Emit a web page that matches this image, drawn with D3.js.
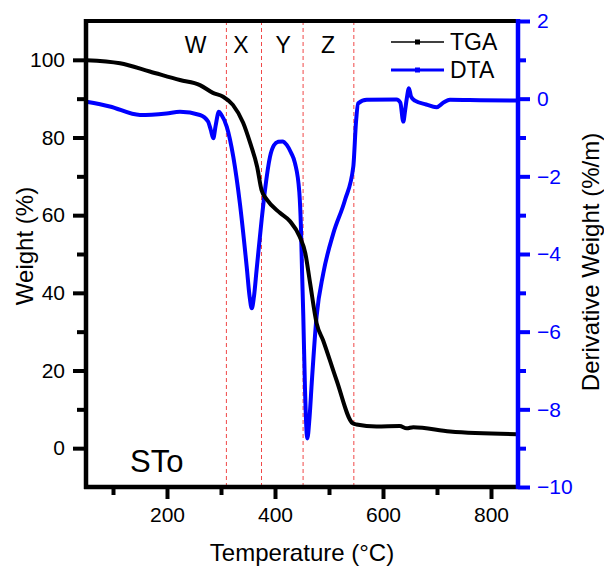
<!DOCTYPE html>
<html><head><meta charset="utf-8">
<script src="https://cdn.jsdelivr.net/npm/d3@7"></script>
<style>body{margin:0;background:#fff}text{font-family:"Liberation Sans",Arial,sans-serif}</style>
</head><body><svg id="c" width="604" height="568"></svg>
<script>
const tgaT = [51,113,168,224,261,285,304,322,341,354,367,375,385,409,428,446,456,465,477,489,514,544,551,588,631,644,656,724,848];
const tgaW = [99.9,99.1,97.0,94.8,93.5,91.5,90.5,88.4,83.8,78.6,72.4,66.5,64.0,60.6,58.4,54.4,50.3,42.5,32.2,27.8,17.5,6.4,6.1,5.6,5.7,5.1,5.4,4.3,3.6];
const dtaT = [51,94,150,199,224,261,276,281,285.7,290,296,301,310.6,322.8,335,347.6,353,357,361,366,375.4,381.5,390.7,398,406,414,421.7,430,437,445,448,450,452.4,455.6,459.8,464,468,477,489.4,508,529.6,545,550,554,570,625,632,637.6,641,644,648,652,659,680,699,712,724,780,848];
const dtaD = [-0.08,-0.2,-0.42,-0.38,-0.34,-0.42,-0.59,-0.8,-1.02,-0.7,-0.34,-0.42,-0.72,-1.5,-2.7,-4.33,-5.1,-5.4,-5.1,-4.4,-3.1,-2.35,-1.5,-1.2,-1.11,-1.1,-1.19,-1.4,-1.66,-2.4,-3.3,-4.4,-5.6,-7.5,-8.75,-8.2,-7.33,-5.61,-4.5,-3.47,-2.61,-1.75,-0.6,-0.12,-0.03,-0.02,-0.1,-0.59,-0.3,0.0,0.27,0.05,-0.05,-0.15,-0.22,-0.1,-0.03,-0.04,-0.05];
const stageT = [310,375,452,546];
const stageLabels = ["W","X","Y","Z"];
const stageLabelT = [253,337,415,498];
const xTicks = [200,400,600,800];
const xMinor = [100,300,500,700];
const yTicks = [0,20,40,60,80,100];
const yMinor = [10,30,50,70,90];
const y2Ticks = [2,0,-2,-4,-6,-8,-10];
const y2Minor = [1,-1,-3,-5,-7,-9];

const svg = d3.select("#c");
const L=86, R=518, T=21, B=487;
const x = d3.scaleLinear().domain([50,850]).range([L,R]);
const y = d3.scaleLinear().domain([-10,110]).range([B,T]);
const y2 = d3.scaleLinear().domain([-10,2]).range([B,T]);

// stage lines
svg.append("g").selectAll("line").data(stageT).join("line")
  .attr("x1",d=>x(d)).attr("x2",d=>x(d)).attr("y1",T).attr("y2",B)
  .attr("stroke","#f04848").attr("stroke-width",1).attr("stroke-dasharray","4,3");

// curves
const line1 = d3.line().x((d,i)=>x(tgaT[i])).y((d,i)=>y(tgaW[i])).curve(d3.curveMonotoneX);
const line2 = d3.line().x((d,i)=>x(dtaT[i])).y((d,i)=>y2(dtaD[i])).curve(d3.curveMonotoneX);
svg.append("path").attr("d",line2(dtaD)).attr("fill","none").attr("stroke","#0000ff").attr("stroke-width",4).attr("stroke-linejoin","round");
svg.append("path").attr("d",line1(tgaW)).attr("fill","none").attr("stroke","#000").attr("stroke-width",4).attr("stroke-linejoin","round");

// axes
const fs = "21px";
const xa = svg.append("g").attr("transform",`translate(0,${B})`)
  .call(d3.axisBottom(x).tickValues(xTicks).tickSize(12).tickPadding(8).tickFormat(d3.format("d")));
const xm = svg.append("g").attr("transform",`translate(0,${B})`)
  .call(d3.axisBottom(x).tickValues(xMinor).tickSize(8).tickFormat(""));
const ya = svg.append("g").attr("transform",`translate(${L},0)`)
  .call(d3.axisLeft(y).tickValues(yTicks).tickSize(13).tickPadding(8));
const ym = svg.append("g").attr("transform",`translate(${L},0)`)
  .call(d3.axisLeft(y).tickValues(yMinor).tickSize(9).tickFormat(""));
const y2a = svg.append("g").attr("transform",`translate(${R},0)`)
  .call(d3.axisRight(y2).tickValues(y2Ticks).tickSize(12).tickPadding(7));
const y2m = svg.append("g").attr("transform",`translate(${R},0)`)
  .call(d3.axisRight(y2).tickValues(y2Minor).tickSize(8).tickFormat(""));
[xa,xm,ya,ym].forEach(g=>{
  g.selectAll("line").attr("stroke","#000").attr("stroke-width",4);
  g.selectAll("text").attr("fill","#000").style("font-size",fs).style("font-family","Liberation Sans, Arial");});
[y2a,y2m].forEach(g=>{
  g.selectAll("line").attr("stroke","#0000ff").attr("stroke-width",4);
  g.selectAll("text").attr("fill","#0000ff").style("font-size",fs).style("font-family","Liberation Sans, Arial");});
[xa,xm,ya,ym,y2a,y2m].forEach(g=>g.select(".domain").remove());
// axis lines
svg.append("line").attr("x1",L).attr("x2",R).attr("y1",T).attr("y2",T).attr("stroke","#000").attr("stroke-width",4);
svg.append("line").attr("x1",L-2).attr("x2",R).attr("y1",B).attr("y2",B).attr("stroke","#000").attr("stroke-width",4.5);
svg.append("line").attr("x1",L).attr("x2",L).attr("y1",T-2).attr("y2",B+2).attr("stroke","#000").attr("stroke-width",4.5);
svg.append("line").attr("x1",R).attr("x2",R).attr("y1",T-2).attr("y2",B+2).attr("stroke","#0000ff").attr("stroke-width",4.5);

// stage labels
svg.append("g").selectAll("text").data(stageLabels).join("text")
  .attr("x",(d,i)=>x(stageLabelT[i])).attr("y",53).attr("text-anchor","middle")
  .style("font-size","23px").text(d=>d);

// axis titles
svg.append("text").attr("x",302).attr("y",561).attr("text-anchor","middle").style("font-size","24px").text("Temperature (°C)");
svg.append("text").attr("transform","translate(33,246) rotate(-90)").attr("text-anchor","middle").style("font-size","24px").text("Weight (%)");
svg.append("text").attr("transform","translate(599,262) rotate(-90)").attr("text-anchor","middle").style("font-size","24px").text("Derivative Weight (%/m)");

// sample label
svg.append("text").attr("x",130).attr("y",472).style("font-size","31px").text("STo");

// legend
const leg = [{n:"TGA",c:"#000",y:42},{n:"DTA",c:"#0000ff",y:70}];
const lg = svg.append("g").selectAll("g").data(leg).join("g");
lg.append("line").attr("x1",391).attr("x2",444).attr("y1",d=>d.y).attr("y2",d=>d.y).attr("stroke",d=>d.c).attr("stroke-width",d=>d.n==="TGA"?1.5:3);
lg.append("rect").attr("x",415).attr("y",d=>d.y-2.5).attr("width",5).attr("height",5).attr("fill",d=>d.c);
lg.append("text").attr("x",450).attr("y",d=>d.y+8).style("font-size","23px").text(d=>d.n);
</script></body></html>
